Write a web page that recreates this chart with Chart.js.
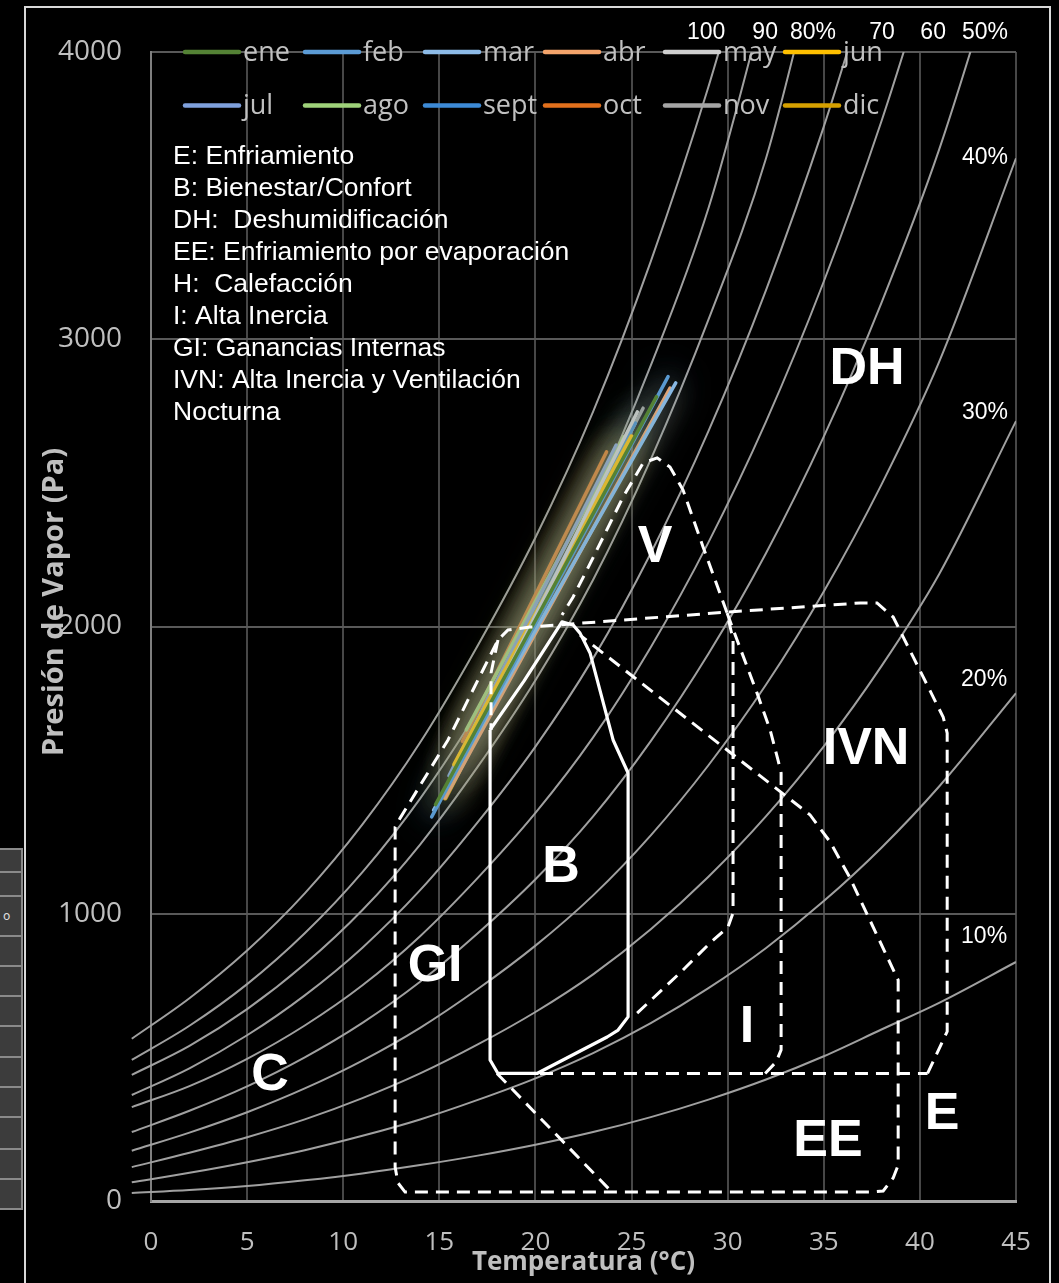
<!DOCTYPE html>
<html>
<head>
<meta charset="utf-8">
<script src="https://cdn.jsdelivr.net/npm/chart.js@4.4.1/dist/chart.umd.min.js"></script>
<style>
html,body{margin:0;padding:0;background:#000;}
#wrap{position:relative;width:1059px;height:1283px;overflow:hidden;background:#000;}
#frame{position:absolute;left:24px;top:6px;width:1023px;height:1320px;border:2px solid #d9d9d9;}
#cells{position:absolute;left:-3px;top:848px;width:26px;}
.cell{box-sizing:border-box;width:26px;background:#3c3c3c;border:2px solid #8a8a8a;border-top:none;font:12px "DejaVu Sans",sans-serif;color:#ddd;line-height:28px;padding-left:4px;}
.cell:first-child{border-top:2px solid #8a8a8a;}
#box{position:absolute;left:0;top:0;width:1059px;height:1283px;}
</style>
</head>
<body>
<div id="wrap">
  <div id="frame"></div>
  <div id="cells">
    <div class="cell" style="height:25px"></div>
    <div class="cell" style="height:24px"></div>
    <div class="cell" style="height:40px;line-height:38px">o</div>
    <div class="cell" style="height:30px"></div>
    <div class="cell" style="height:30px"></div>
    <div class="cell" style="height:30px"></div>
    <div class="cell" style="height:31px"></div>
    <div class="cell" style="height:30px"></div>
    <div class="cell" style="height:30px"></div>
    <div class="cell" style="height:32px"></div>
    <div class="cell" style="height:30px"></div>
    <div class="cell" style="height:30px"></div>
  </div>
  <div id="box"><canvas id="c"></canvas></div>
</div>
<script>
// ---------- Relative-humidity curves (temperature °C -> vapour pressure Pa) ----------
const rhTemps = [-1, 2, 5, 8, 11, 14, 17, 20, 23, 26, 29, 32, 35, 38, 41, 45];
const rh100 = [565, 706, 872, 1071, 1311, 1596, 1934, 2310, 2748, 3271, 3879, 4582, null, null, null, null];
const rh90  = [491, 610, 755, 932, 1145, 1401, 1705, 2044, 2438, 2909, 3456, 4190, null, null, null, null];
const rh80  = [439, 540, 668, 825, 1013, 1241, 1512, 1813, 2163, 2582, 3068, 3631, 4420, null, null, null];
const rh70  = [369, 462, 577, 716, 882, 1082, 1319, 1582, 1889, 2255, 2680, 3172, 3740, 4392, null, null];
const rh60  = [327, 400, 495, 611, 751, 922, 1125, 1351, 1614, 1928, 2293, 2714, 3201, 3759, 4398, null];
const rh50  = [240, 314, 399, 500, 620, 763, 932, 1120, 1339, 1601, 1905, 2256, 2661, 3127, 3660, 4521];
const rh40  = [175, 238, 309, 392, 489, 603, 738, 889, 1064, 1273, 1517, 1798, 2122, 2494, 2921, 3630];
const rh30  = [118, 168, 222, 284, 358, 444, 545, 658, 789, 946, 1129, 1340, 1583, 1862, 2182, 2715];
const rh20  = [65, 98, 135, 177, 227, 284, 352, 427, 515, 619, 741, 881, 1044, 1230, 1443, 1768];
const rh10  = [28, 38, 52, 72, 96, 125, 158, 196, 240, 292, 353, 423, 504, 597, 690, 832];
const rhSeries = [rh100, rh90, rh80, rh70, rh60, rh50, rh40, rh30, rh20, rh10];

// ---------- Monthly lines ----------
const months    = ['ene', 'feb', 'mar', 'abr', 'may', 'jun', 'jul', 'ago', 'sept', 'oct', 'nov', 'dic'];
const monthTmin = [14.8, 14.6, 14.7, 15.3, 15.9, 15.8, 15.5, 16.4, 16.2, 16.2, 15.6, 15.3];
const monthPmin = [1380, 1337, 1361, 1403, 1490, 1520, 1480, 1640, 1570, 1600, 1480, 1403];
const monthTmax = [26.3, 26.9, 27.3, 27.0, 25.3, 25.0, 24.2, 24.6, 25.2, 23.7, 25.6, 24.8];
const monthPmax = [2800, 2870, 2848, 2830, 2747, 2660, 2632, 2660, 2708, 2608, 2760, 2639];
const monthColors = ['#548235', '#5b9bd5', '#8dbbe8', '#f4a46b', '#cfcfcf', '#ffc000',
                     '#7fa0dc', '#9fd27a', '#3d8ad6', '#e2701c', '#a5a5a5', '#d6a000'];

// ---------- Givoni zones (T °C, P Pa) ----------
const outerT = [40.4, 41.42, 41.42, 41.21, 39.65, 38.61, 37.77, 36.89, 29.97, 19.72, 18.57, 18.05, 15.45, 12.96, 12.70, 12.70, 12.85, 13.22, 37.41, 38.09, 38.61, 38.87, 38.87, 36.37, 35.33, 34.29, 22.32];
const outerP = [444, 590, 1629, 1685, 1894, 2033, 2082, 2082, 2050, 1998, 1988, 1953, 1605, 1333, 1302, 118, 63, 31, 31, 35, 80, 125, 769, 1124, 1250, 1344, 1970];
const baseT  = [18.05, 40.4];
const baseP  = [444, 444];
const eeDiagT = [18.0, 23.85];
const eeDiagP = [444, 40];
const vT = [25.29, 27.52, 29.08, 30.02, 30.28, 30.28, 29.97, 28.72, 27.68, 27.0, 26.33, 25.60, 24.56, 22.68, 21.96, 21.38];
const vP = [654, 794, 898, 954, 1003, 1953, 2047, 2277, 2475, 2555, 2587, 2569, 2451, 2197, 2103, 2040];
const iT = [29.97, 30.49, 31.53, 32.21, 32.62, 32.78, 32.78, 32.52, 31.95];
const iP = [2047, 1953, 1768, 1640, 1535, 1490, 526, 484, 444];
const bExtT = [18.05, 17.69, 17.69];
const bExtP = [1953, 1838, 1640];
const bT = [17.64, 19.40, 21.38, 21.96, 22.32, 22.84, 24.04, 24.82, 24.82, 24.30, 23.73, 20.08, 18.05, 17.64, 17.64];
const bP = [1640, 1810, 2016, 2005, 1977, 1908, 1605, 1490, 641, 595, 571, 444, 444, 491, 1640];

// ---------- Texts ----------
const rhLabels = ['100', '90', '80%', '70', '60', '50%', '40%', '30%', '20%', '10%'];
const zoneLabels = ['DH', 'V', 'IVN', 'B', 'GI', 'C', 'I', 'EE', 'E'];
const noteLines = ['E: Enfriamiento', 'B: Bienestar/Confort', 'DH:  Deshumidificación',
  'EE: Enfriamiento por evaporación', 'H:  Calefacción', 'I: Alta Inercia',
  'GI: Ganancias Internas', 'IVN: Alta Inercia y Ventilación', 'Nocturna'];

// annotation placement (data coordinates)
const rhLabelPos = [[28.88, 4066], [31.95, 4066], [34.44, 4066], [38.03, 4066], [40.69, 4066], [43.39, 4066],
                    [43.39, 3631], [43.39, 2743], [43.34, 1814], [43.34, 919]];
const zoneLabelPos = [[37.25, 2893], [26.22, 2273], [37.2, 1570], [21.33, 1159], [14.78, 815],
                      [6.19, 435], [31.0, 602], [35.22, 205], [41.16, 299]];

const pts = (T, P) => T.map((t, i) => ({x: t, y: P[i]}));

const datasets = [];
rhSeries.forEach((s, k) => datasets.push({
  label: 'HR ' + rhLabels[k], data: pts(rhTemps, s), showLine: true,
  borderColor: '#a0a0a0', borderWidth: 2, pointRadius: 0,
  cubicInterpolationMode: 'monotone', clip: {left: 21, top: 0, right: 0, bottom: 0}, order: 3
}));
months.forEach((m, k) => datasets.push({
  label: m, data: [{x: monthTmin[k], y: monthPmin[k]}, {x: monthTmax[k], y: monthPmax[k]}],
  showLine: true, borderColor: monthColors[k], borderWidth: (m === 'dic' || m === 'jun') ? 5 : 3.5,
  borderCapStyle: 'round', pointRadius: 0, glow: monthColors[k], order: 2
}));
const dashed = (lbl, T, P) => ({label: lbl, data: pts(T, P), showLine: true, borderColor: '#ffffff',
  borderWidth: 3, borderDash: [13, 8], pointRadius: 0, tension: 0, order: 1});
datasets.push(dashed('outer', outerT, outerP));
datasets.push(dashed('base', baseT, baseP));
datasets.push(dashed('ee', eeDiagT, eeDiagP));
datasets.push(dashed('V', vT, vP));
datasets.push(dashed('I', iT, iP));
datasets.push(dashed('bext', bExtT, bExtP));
datasets.push({label: 'B', data: pts(bT, bP), showLine: true, borderColor: '#ffffff', borderWidth: 3.2,
  pointRadius: 0, tension: 0, borderJoinStyle: 'round', order: 0});

const glowPlugin = {
  id: 'glow',
  beforeDatasetDraw(chart, args) {
    const ds = chart.data.datasets[args.index];
    if (ds.glow) { const c = chart.ctx; c.save(); c.shadowColor = ds.glow; c.shadowBlur = 34; }
  },
  afterDatasetDraw(chart, args) {
    const ds = chart.data.datasets[args.index];
    if (ds.glow) chart.ctx.restore();
  }
};

const overlayPlugin = {
  id: 'overlay',
  afterDraw(chart) {
    const c = chart.ctx, xs = chart.scales.x, ys = chart.scales.y;
    c.save();
    // zone labels
    c.fillStyle = '#ffffff';
    c.textAlign = 'center'; c.textBaseline = 'middle';
    c.font = 'bold 52px "Liberation Sans", Arial, sans-serif';
    zoneLabels.forEach((t, i) => c.fillText(t, xs.getPixelForValue(zoneLabelPos[i][0]), ys.getPixelForValue(zoneLabelPos[i][1])));
    // RH labels
    c.font = '23px "Liberation Sans", Arial, sans-serif';
    rhLabels.forEach((t, i) => c.fillText(t, xs.getPixelForValue(rhLabelPos[i][0]), ys.getPixelForValue(rhLabelPos[i][1])));
    // note box
    c.textAlign = 'left';
    c.font = '26.5px "Liberation Sans", Arial, sans-serif';
    noteLines.forEach((t, i) => c.fillText(t, 173, 157 + 32 * i));
    // legend
    c.font = '27px "Open Sans", sans-serif';
    c.textBaseline = 'alphabetic';
    months.forEach((m, i) => {
      const col = i % 6, row = Math.floor(i / 6);
      const x0 = 185 + col * 120, y0 = 52 + row * 53.5;
      c.strokeStyle = monthColors[i]; c.lineWidth = 4.5; c.lineCap = 'round';
      c.beginPath(); c.moveTo(x0, y0); c.lineTo(x0 + 54, y0); c.stroke();
      c.fillStyle = '#c0c0c0';
      c.fillText(m, x0 + 58, y0 + 8.5);
    });
    // y axis title
    c.translate(55, 602); c.rotate(-Math.PI / 2);
    c.textAlign = 'center'; c.textBaseline = 'middle';
    c.fillStyle = '#bfbfbf';
    c.font = 'bold 29px "Open Sans", sans-serif';
    c.fillText('Presión de Vapor (Pa)', 0, 0);
    c.restore();
  }
};

new Chart(document.getElementById('c'), {
  type: 'scatter',
  data: {datasets},
  options: {
    responsive: true, maintainAspectRatio: false, animation: false, devicePixelRatio: 1, events: [],
    layout: {padding: {left: 0, top: 52, right: 43, bottom: 0}},
    plugins: {legend: {display: false}, tooltip: {enabled: false}, title: {display: false}},
    scales: {
      x: {
        type: 'linear', min: 0, max: 45,
        ticks: {stepSize: 5, color: '#bfbfbf', font: {family: 'Open Sans', size: 26}, padding: 26, maxRotation: 0,
                callback: v => String(v)},
        grid: {color: '#474747', lineWidth: 2, drawTicks: false},
        border: {color: '#a6a6a6', width: 3},
        title: {display: true, text: 'Temperatura (°C)', color: '#bfbfbf',
                font: {family: 'Open Sans', size: 26, weight: 'bold'}, padding: {top: 0, bottom: 5}},
        afterFit(s) { s.height = 82; }
      },
      y: {
        type: 'linear', min: 0, max: 4000,
        ticks: {stepSize: 1000, color: '#bfbfbf', font: {family: 'Open Sans', size: 28}, padding: 29,
                callback: v => String(v)},
        grid: {color: '#595959', lineWidth: 2, drawTicks: false},
        border: {color: '#7f7f7f', width: 2},
        afterFit(s) { s.width = 151; }
      }
    }
  },
  plugins: [glowPlugin, overlayPlugin]
});
</script>
</body>
</html>
